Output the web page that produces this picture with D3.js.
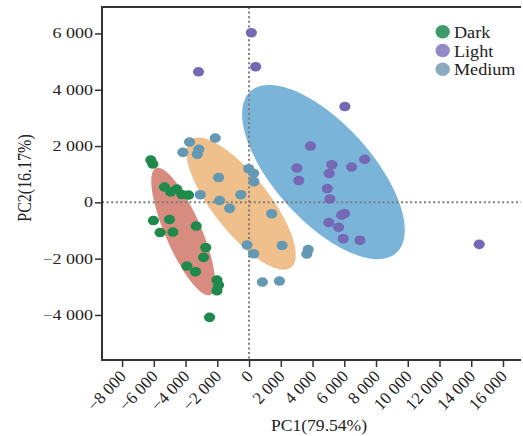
<!DOCTYPE html>
<html>
<head>
<meta charset="utf-8">
<script src="https://cdn.jsdelivr.net/npm/d3@7"></script>
<style>
html,body{margin:0;padding:0;background:#fff;}
svg{display:block;}
text{font-family:"Liberation Serif","Times New Roman",serif;fill:#222;}
</style>
</head>
<body>
<svg id="chart" width="523" height="436"></svg>
<script>
// ---- data ----
const groups = ["Dark", "Light", "Medium"];
const darkX = [-6190,-6063,-5331,-4939,-4560,-4232,-3815,-6025,-5015,-5602,-4800,-3328,-2728,-2867,-3916,-3373,-2021,-1920,-2021,-2488];
const darkY = [1503,1361,544,366,472,277,259,-647,-611,-1073,-1055,-842,-1606,-1954,-2263,-2465,-2760,-2938,-3140,-4085];
const lightX = [145,417,-3183,6038,3872,3019,3133,5217,5053,6461,7282,4926,5091,6019,5830,5027,5640,5937,6985,14501];
const lightY = [6025,4817,4639,3403,2000,1218,774,1336,1023,1254,1528,490,117,-398,-451,-718,-888,-1293,-1346,-1492];
const mediumX = [-2128,-3752,-4168,-3158,-3265,-1920,-25,291,303,-3076,-518,-1857,-1225,1427,-126,291,2084,3726,3638,840,1914];
const mediumY = [2284,2142,1776,1886,1709,881,1194,1030,732,270,270,64,-213,-405,-1517,-1826,-1535,-1677,-1837,-2831,-2796];
// confidence ellipses: centre and two conjugate semi-diameters (data units)
const ellCX = [-4150, 4686, -505];
const ellCY = [-1037, 1076, -43];
const ellUX = [1718, 4592, 3152];
const ellUY = [-2252, -2870, -2266];
const ellVX = [-1042, -2274, -1396];
const ellVY = [-252, -1155, -611];
const xTicks = [-8000,-6000,-4000,-2000,0,2000,4000,6000,8000,10000,12000,14000,16000];
const yTicks = [-4000,-2000,0,2000,4000,6000];
const xTitle = "PC1(79.54%)";
const yTitle = "PC2(16.17%)";

// ---- styles ----
const pointColor = {Dark:"#1f8a4c", Light:"#7568b5", Medium:"#6499b3"};
const legendColor = {Dark:"#3f9b6b", Light:"#9189c8", Medium:"#8babc1"};
const ellColor = {Dark:"#d88c80", Light:"#7ab5d9", Medium:"#efbf8c"};
const SX = 1.2; // horizontal stretch of the original picture

const svg = d3.select("#chart");
const pL = 102, pR = 521, pT = 7, pB = 360;
const x = d3.scaleLinear().domain([-9265, 17135]).range([pL, pR]);
const y = d3.scaleLinear().domain([-5600, 6940]).range([pB, pT]);

const loc = d3.formatLocale({decimal:".", thousands:"\u2009", grouping:[3], currency:["",""], minus:"\u2212"});
const fmt = v => loc.format(",")(v).replace("\u2009", " ");

const series = {
  Dark: darkX.map((v,i)=>[v, darkY[i]]),
  Light: lightX.map((v,i)=>[v, lightY[i]]),
  Medium: mediumX.map((v,i)=>[v, mediumY[i]])
};

// ellipses
const line = d3.line().x(d=>x(d[0])).y(d=>y(d[1])).curve(d3.curveLinearClosed);
groups.forEach((g, i) => {
  const pts = d3.range(0, 360, 2).map(deg => {
    const t = deg * Math.PI / 180;
    return [ellCX[i] + ellUX[i]*Math.cos(t) + ellVX[i]*Math.sin(t),
            ellCY[i] + ellUY[i]*Math.cos(t) + ellVY[i]*Math.sin(t)];
  });
  svg.append("path").attr("d", line(pts)).attr("fill", ellColor[g]).attr("stroke", "none");
});

// reference dotted lines
svg.append("line").attr("x1", x(0)).attr("x2", x(0)).attr("y1", pT).attr("y2", pB)
  .attr("stroke", "#7d7d7d").attr("stroke-width", 2).attr("stroke-dasharray", "2,2.6");
svg.append("line").attr("x1", pL).attr("x2", pR).attr("y1", y(0)).attr("y2", y(0))
  .attr("stroke", "#7d7d7d").attr("stroke-width", 2).attr("stroke-dasharray", "2,2.6");

// points
groups.forEach(g => {
  svg.append("g").selectAll("ellipse").data(series[g]).join("ellipse")
    .attr("cx", d=>x(d[0])).attr("cy", d=>y(d[1]))
    .attr("rx", 5.6).attr("ry", 4.8)
    .attr("fill", pointColor[g]);
});

// axes
const yAxis = d3.axisLeft(y).tickValues(yTicks).tickSize(7).tickFormat("");
const gy = svg.append("g").attr("transform", `translate(${pL},0)`).call(yAxis);
const xAxis = d3.axisBottom(x).tickValues(xTicks).tickSize(7).tickFormat("");
const gx = svg.append("g").attr("transform", `translate(0,${pB})`).call(xAxis);
[gx, gy].forEach(g => {
  g.select(".domain").remove();
  g.selectAll(".tick line").attr("stroke", "#333").attr("stroke-width", 1.5);
});
// frame lines
svg.append("line").attr("x1", pL).attr("x2", pL).attr("y1", pT).attr("y2", pB).attr("stroke", "#333").attr("stroke-width", 2);
svg.append("line").attr("x1", pL-1).attr("x2", pR).attr("y1", pB).attr("y2", pB).attr("stroke", "#333").attr("stroke-width", 2);
svg.append("line").attr("x1", pL-1).attr("x2", pR).attr("y1", pT).attr("y2", pT).attr("stroke", "#333").attr("stroke-width", 2);

// tick labels
svg.append("g").selectAll("text").data(yTicks).join("text")
  .attr("transform", d => `translate(93,${y(d)+5}) scale(${SX},1)`)
  .attr("text-anchor", "end").attr("font-size", 15).text(fmt);
svg.append("g").selectAll("text").data(xTicks).join("text")
  .attr("transform", d => `translate(${x(d)+5},${pB+17}) rotate(-47)`)
  .attr("text-anchor", "end").attr("font-size", 17).text(fmt);

// titles
svg.append("text").attr("transform", `translate(319,431) scale(1.1,1)`)
  .attr("text-anchor", "middle").attr("font-size", 16).text(xTitle);
svg.append("text").attr("transform", `translate(31,178) scale(${SX},1) rotate(-90)`)
  .attr("text-anchor", "middle").attr("font-size", 16).text(yTitle);

// legend
const lg = svg.append("g");
groups.forEach((g, i) => {
  const cy = 31.7 + i*18.8;
  lg.append("ellipse").attr("cx", 442.7).attr("cy", cy).attr("rx", 7.2).attr("ry", 6.7).attr("fill", legendColor[g]);
  lg.append("text").attr("transform", `translate(454,${cy+6}) scale(1.1,1)`).attr("font-size", 16.5).text(g);
});
</script>
</body>
</html>
